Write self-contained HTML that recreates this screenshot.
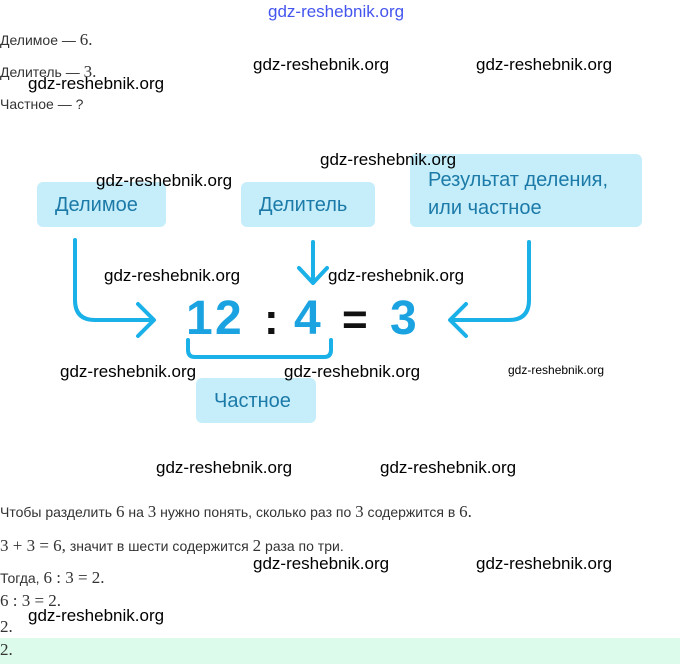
<!DOCTYPE html>
<html><head><meta charset="utf-8"><style>
body{margin:0;width:680px;height:664px;position:relative;background:#fff;font-family:"Liberation Sans",sans-serif;overflow:hidden}
.a{position:absolute;white-space:nowrap}
.t{font-size:14px;color:#333}
.m{font-family:"Liberation Serif",serif;font-size:17px}
.w{font-size:17px;color:#000}
.b{position:absolute;background:#c6eefa;border-radius:6px;color:#1c7aa8;font-size:20px}
</style></head><body>
<div class="a" style="left:268px;top:2px;font-size:17px;color:#4455ee">gdz-reshebnik.org</div>
<div class="a t" style="left:0;top:30px">Делимое — <span class="m">6.</span></div>
<div class="a t" style="left:0;top:62px">Делитель — <span class="m">3.</span></div>
<div class="a t" style="left:0;top:96px">Частное — ?</div>
<div class="a w" style="left:28px;top:74px">gdz-reshebnik.org</div>
<div class="a w" style="left:253px;top:55px">gdz-reshebnik.org</div>
<div class="a w" style="left:476px;top:55px">gdz-reshebnik.org</div>

<div class="b" style="left:37px;top:182px;width:129px;height:45px"><span class="a" style="left:18px;top:12px">Делимое</span></div>
<div class="b" style="left:241px;top:182px;width:134px;height:45px"><span class="a" style="left:18px;top:12px">Делитель</span></div>
<div class="b" style="left:410px;top:154px;width:232px;height:73px"><span class="a" style="left:18px;top:12px;line-height:28px">Результат деления,<br>или частное</span></div>
<div class="b" style="left:196px;top:378px;width:120px;height:45px"><span class="a" style="left:18px;top:12px">Частное</span></div>

<svg class="a" style="left:0;top:0" width="680" height="664">
<g fill="none" stroke="#1ab0e8" stroke-width="4" stroke-linecap="round" stroke-linejoin="round">
<path d="M75 240 V300 Q75 320 95 320 H152"/><path d="M138 304 L154 320 L138 336"/>
<path d="M313 242 V282"/><path d="M299 268 L313 283 L327 268"/>
<path d="M529 242 V300 Q529 320 509 320 H452"/><path d="M466 304 L450 320 L466 336"/>
<path d="M188 340 V350 Q188 357 195 357 H324 Q331 357 331 350 V340"/>
</g>
<g font-family="Liberation Sans,sans-serif" font-size="48" font-weight="bold" fill="#1aa3e0">
<text x="186" y="334">1</text><text x="215" y="334">2</text><text x="294" y="334">4</text><text x="390" y="334">3</text>
</g>
<text x="264" y="334" font-family="Liberation Sans,sans-serif" font-size="44" font-weight="bold" fill="#111">:</text>
<text x="342" y="334" font-family="Liberation Sans,sans-serif" font-size="44" font-weight="bold" fill="#111">=</text>
</svg>

<div class="a w" style="left:320px;top:150px">gdz-reshebnik.org</div>
<div class="a w" style="left:96px;top:171px">gdz-reshebnik.org</div>
<div class="a w" style="left:104px;top:266px">gdz-reshebnik.org</div>
<div class="a w" style="left:328px;top:266px">gdz-reshebnik.org</div>
<div class="a w" style="left:60px;top:362px">gdz-reshebnik.org</div>
<div class="a w" style="left:284px;top:362px">gdz-reshebnik.org</div>
<div class="a" style="left:508px;top:363px;font-size:12px">gdz-reshebnik.org</div>
<div class="a w" style="left:156px;top:458px">gdz-reshebnik.org</div>
<div class="a w" style="left:380px;top:458px">gdz-reshebnik.org</div>

<div class="a t" style="left:0;top:502px">Чтобы разделить <span class="m">6</span> на <span class="m">3</span> нужно понять, сколько раз по <span class="m">3</span> содержится в <span class="m">6.</span></div>
<div class="a t" style="left:0;top:536px"><span class="m">3 + 3 = 6,</span> значит в шести содержится <span class="m">2</span> раза по три.</div>
<div class="a t" style="left:0;top:568px">Тогда, <span class="m">6 : 3 = 2.</span></div>
<div class="a t" style="left:0;top:591px"><span class="m">6 : 3 = 2.</span></div>
<div class="a t" style="left:0;top:617px"><span class="m">2.</span></div>
<div class="a w" style="left:253px;top:554px">gdz-reshebnik.org</div>
<div class="a w" style="left:476px;top:554px">gdz-reshebnik.org</div>
<div class="a w" style="left:28px;top:606px">gdz-reshebnik.org</div>
<div class="a" style="left:0;top:638px;width:680px;height:26px;background:#dcfbea"></div>
<div class="a t" style="left:0;top:640px"><span class="m">2.</span></div>
</body></html>
